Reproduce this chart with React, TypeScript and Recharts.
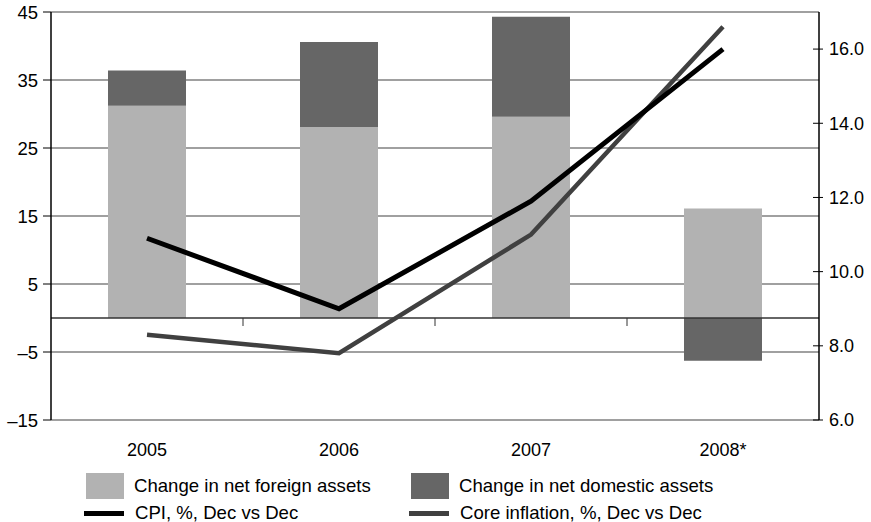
import React from 'react';
import { ComposedChart, Bar, Line, XAxis, YAxis, CartesianGrid, ReferenceLine } from 'recharts';

const years = ['2005', '2006', '2007', '2008*'];
const foreignAssets = [31.2, 28.1, 29.6, 16.1];
const domesticAssets = [5.2, 12.5, 14.7, -6.3];
const cpi = [10.9, 9.0, 11.9, 16.0];
const coreInflation = [8.3, 7.8, 11.0, 16.6];
const leftTicks = [-15, -5, 5, 15, 25, 35, 45];
const rightTicks = [6, 8, 10, 12, 14, 16];

const data = years.map((y, i) => ({
  year: y,
  foreign: foreignAssets[i],
  domestic: domesticAssets[i],
  cpi: cpi[i],
  core: coreInflation[i],
}));

const FONT = '"Liberation Sans", Arial, sans-serif';
const C_FOREIGN = '#b2b2b2';
const C_DOMESTIC = '#666666';
const C_CPI = '#000000';
const C_CORE = '#404040';

const fmtLeft = (v: number) => (v < 0 ? '\u2013' + Math.abs(v) : String(v));

const ZeroLine = (props: any) => {
  const { x1, y1, x2, y2 } = props;
  if (x1 == null) return null;
  const w = x2 - x1;
  const n = years.length;
  const marks = [];
  for (let i = 1; i < n; i++) {
    const x = x1 + (w * i) / n;
    marks.push(<line key={i} x1={x} x2={x} y1={y1} y2={y1 + 8} stroke="#333" strokeWidth={1} />);
  }
  return (
    <g>
      <line x1={x1} x2={x2} y1={y1} y2={y2} stroke="#333" strokeWidth={1.5} />
      {marks}
    </g>
  );
};

const RightTick = (props: any) => {
  const { x, y, payload } = props;
  return (
    <g>
      <line x1={x - 16} x2={x - 6} y1={y} y2={y} stroke="#000" strokeWidth={1} />
      <text x={x} y={y} dy="0.35em" textAnchor="start" fontSize={18} fontFamily={FONT} fill="#000">
        {Number(payload.value).toFixed(1)}
      </text>
    </g>
  );
};

const LegendSwatch = ({ x, y, color, label, line }: any) => (
  <div style={{ position: 'absolute', left: x, top: y, height: 26, display: 'flex', alignItems: 'center' }}>
    {line ? (
      <div style={{ width: 40, height: 5, background: color }} />
    ) : (
      <div style={{ width: 38, height: 26, background: color }} />
    )}
    <span style={{ marginLeft: line ? 11 : 10, fontSize: 18.6, fontFamily: FONT, color: '#000', whiteSpace: 'nowrap' }}>
      {label}
    </span>
  </div>
);

export default function App() {
  return (
    <div style={{ position: 'fixed', left: 0, top: 0, width: 871, height: 522, background: '#fff', fontFamily: FONT, overflow: 'hidden' }}>
      <ComposedChart
        width={871}
        height={522}
        data={data}
        stackOffset="sign"
        margin={{ top: 12, right: 0, left: 0, bottom: 0 }}
      >
        <CartesianGrid yAxisId="left" horizontal vertical={false} stroke="#808080" strokeWidth={1.5} />
        <XAxis
          dataKey="year"
          height={102}
          axisLine={false}
          tickLine={false}
          tickMargin={17}
          tick={{ fontSize: 18, fill: '#000', fontFamily: FONT }}
        />
        <YAxis
          yAxisId="left"
          orientation="left"
          width={51}
          domain={[-15, 45]}
          ticks={leftTicks}
          interval={0}
          tickFormatter={fmtLeft}
          axisLine={{ stroke: '#000', strokeWidth: 1.5 }}
          tickLine={{ stroke: '#000' }}
          tickSize={8}
          tickMargin={5}
          tick={{ fontSize: 18.5, fill: '#000', fontFamily: FONT }}
        />
        <YAxis
          yAxisId="right"
          orientation="right"
          width={52}
          domain={[6, 17]}
          ticks={rightTicks}
          interval={0}
          axisLine={{ stroke: '#000', strokeWidth: 1.5 }}
          tickLine={false}
          tickSize={4}
          tickMargin={6}
          tick={<RightTick />}
        />
        <Bar yAxisId="left" dataKey="foreign" stackId="a" fill={C_FOREIGN} barSize={78} isAnimationActive={false} />
        <Bar yAxisId="left" dataKey="domestic" stackId="a" fill={C_DOMESTIC} barSize={78} isAnimationActive={false} />
        <ReferenceLine yAxisId="left" y={0} shape={<ZeroLine />} />
        <Line
          yAxisId="right"
          type="linear"
          dataKey="core"
          stroke={C_CORE}
          strokeWidth={4.5}
          dot={false}
          activeDot={false}
          isAnimationActive={false}
        />
        <Line
          yAxisId="right"
          type="linear"
          dataKey="cpi"
          stroke={C_CPI}
          strokeWidth={5}
          dot={false}
          activeDot={false}
          isAnimationActive={false}
        />
      </ComposedChart>
      <LegendSwatch x={86} y={473} color={C_FOREIGN} label="Change in net foreign assets" />
      <LegendSwatch x={411} y={473} color={C_DOMESTIC} label="Change in net domestic assets" />
      <LegendSwatch x={84} y={500} color={C_CPI} label="CPI, %, Dec vs Dec" line />
      <LegendSwatch x={409} y={500} color={C_CORE} label="Core inflation, %, Dec vs Dec" line />
    </div>
  );
}
